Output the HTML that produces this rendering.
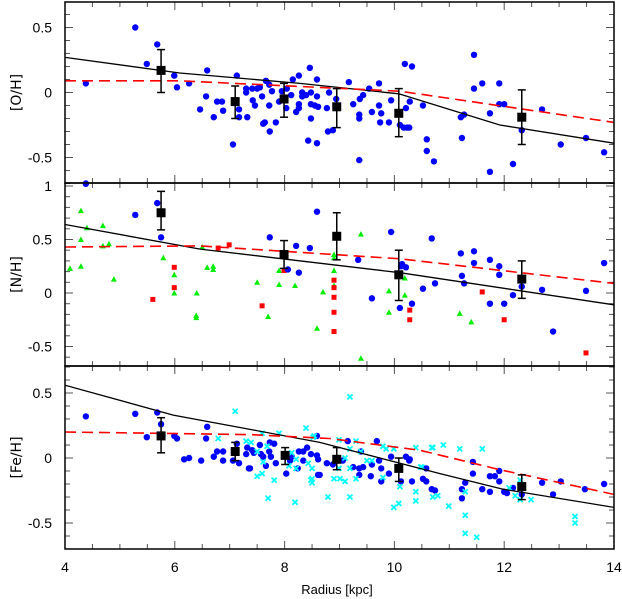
<!DOCTYPE html>
<html><head><meta charset="utf-8">
<style>
html,body{margin:0;padding:0;background:#fff;}
svg{display:block;font-family:"Liberation Sans",sans-serif;}
</style></head>
<body>
<svg id="chart" width="622" height="599" viewBox="0 0 622 599" xmlns="http://www.w3.org/2000/svg"></svg>
<script>
// ---------- data ----------
const xTicks = [4, 6, 8, 10, 12, 14];
const ohBlueR = [5.28,5.68,5.49,4.38,4.38,5.99,6.04,6.26,6.46,6.59,6.57,6.77,6.86,6.71,6.88,7.06,7.13,7.17,7.17,7.30,7.30,7.41,7.42,7.46,7.32,7.50,7.55,7.59,7.66,7.72,7.77,7.72,7.61,7.64,7.73,7.84,7.90,7.95,8.04,8.12,8.03,8.15,8.26,8.21,8.26,8.26,8.32,8.32,8.39,8.46,8.48,8.48,8.48,8.59,8.59,8.55,8.61,8.43,8.59,8.77,8.81,8.94,8.79,8.88,9.17,9.25,9.36,9.36,9.37,9.43,9.54,9.36,9.59,9.72,9.72,9.76,9.74,9.90,9.94,10.19,10.32,10.10,10.21,10.28,10.17,10.23,10.27,10.52,10.59,10.59,10.72,11.45,11.45,11.60,11.21,11.27,11.23,11.74,11.74,11.91,11.91,12.00,12.16,12.32,12.69,13.03,13.49,13.82];
const ohBlueV = [0.50,0.37,0.22,0.07,-0.70,0.13,0.04,0.07,-0.13,0.17,-0.03,-0.07,-0.07,-0.19,-0.14,-0.40,0.13,-0.13,-0.19,0.03,0.00,0.03,-0.06,-0.10,-0.19,0.03,0.04,-0.03,0.09,0.06,0.01,-0.10,-0.24,-0.23,-0.30,-0.23,-0.07,0.01,0.03,-0.02,-0.12,0.10,0.13,-0.15,-0.09,-0.12,0.00,-0.03,-0.02,0.19,0.00,-0.09,-0.20,0.10,-0.03,-0.10,-0.11,-0.37,-0.39,-0.12,0.00,-0.05,-0.30,-0.29,0.08,-0.09,-0.17,-0.20,-0.05,-0.02,0.03,-0.52,-0.15,0.07,-0.10,-0.16,-0.23,-0.23,-0.06,0.22,0.20,-0.25,-0.12,-0.07,-0.27,-0.27,-0.27,-0.10,-0.36,-0.45,-0.53,0.29,0.03,0.07,-0.19,-0.17,-0.35,-0.16,-0.61,0.07,-0.09,-0.09,-0.55,-0.29,-0.13,-0.40,-0.35,-0.46];
const binR = [5.75,7.10,7.99,8.95,10.08,12.32];
const ohBinV = [0.17,-0.07,-0.05,-0.11,-0.16,-0.19];
const ohBinHi = [0.33,0.05,0.07,0.03,0.03,0.02];
const ohBinLo = [0.00,-0.20,-0.19,-0.27,-0.34,-0.40];
const ohModelR = [4,6.09,8.28,10.08,11.92,14];
const ohModelV = [0.27,0.15,0.07,-0.01,-0.25,-0.39];
const ohDashR = [4,6.09,10.10,14];
const ohDashV = [0.09,0.09,0.01,-0.23];

const nhBlueR = [4.38,5.68,5.28,5.75,8.59,7.73,8.21,8.46,8.06,8.26,9.34,9.94,10.14,10.12,10.21,9.59,10.32,10.10,10.68,11.21,11.45,11.45,11.23,11.27,11.74,11.91,11.91,10.52,10.74,11.74,12.00,12.16,12.32,12.69,12.89,13.49,13.82];
const nhBlueV = [1.02,0.84,0.73,0.52,0.76,0.52,0.44,0.42,0.22,0.19,0.31,0.57,0.27,0.25,0.24,-0.05,-0.10,-0.14,0.51,0.37,0.39,0.28,0.16,0.09,0.31,0.25,0.17,0.04,0.09,-0.10,-0.10,-0.02,0.06,0.03,-0.36,0.02,0.28];
const nhGreenR = [4.29,4.09,4.29,4.29,4.40,4.69,4.69,4.80,4.89,5.28,5.79,5.99,5.99,6.40,6.39,6.39,6.50,6.59,6.70,6.70,7.50,7.90,7.90,7.70,8.19,8.59,8.70,8.90,8.90,8.90,8.90,9.39,9.39,9.90,9.90,10.19,10.19,11.19,11.40];
const nhGreenV = [0.77,0.23,0.25,0.50,0.61,0.63,0.44,0.46,0.13,0.73,0.33,0.17,0.00,0.00,-0.21,-0.23,0.43,0.24,0.25,0.22,0.10,0.21,0.08,-0.22,0.07,-0.33,0.01,0.36,0.33,0.21,0.07,0.55,-0.61,0.02,-0.18,0.14,-0.02,-0.19,-0.27];
const nhRedR = [5.60,5.99,5.99,6.79,6.99,7.59,7.99,8.90,8.90,8.90,8.90,8.90,10.28,10.28,11.60,12.00,13.49];
const nhRedV = [-0.06,0.24,0.05,0.42,0.45,-0.12,0.21,0.12,0.05,-0.04,-0.18,-0.36,-0.16,-0.25,0.01,-0.25,-0.56];
const nhBinV = [0.75,0.36,0.53,0.17,0.13];
const nhBinR = [5.75,7.99,8.95,10.08,12.32];
const nhBinHi = [0.95,0.49,0.75,0.40,0.30];
const nhBinLo = [0.59,0.23,0.31,-0.07,-0.05];
const nhModelR = [4,6.46,10.10,14];
const nhModelV = [0.64,0.41,0.19,-0.11];
const nhDashR = [4,6.46,10.10,14];
const nhDashV = [0.43,0.44,0.32,0.09];

const feBlueR = [4.38,5.28,5.68,5.75,5.49,5.99,6.04,6.17,6.26,6.48,6.57,6.59,6.71,6.77,6.88,6.88,7.06,7.13,7.17,7.32,7.30,7.35,7.41,7.44,7.55,7.57,7.61,7.72,7.73,7.81,7.75,7.66,7.37,7.84,8.10,8.13,8.26,8.34,8.41,8.48,8.34,8.03,8.24,8.61,8.59,8.61,8.59,8.64,8.77,8.88,9.06,9.15,9.25,9.36,9.36,9.43,9.39,9.59,9.57,9.68,9.72,9.76,9.76,9.90,9.94,10.12,10.21,10.27,10.28,10.32,10.52,10.58,10.58,10.68,10.74,11.43,11.43,11.23,11.23,11.29,11.60,11.74,11.74,11.83,11.91,11.91,12.00,12.05,12.16,12.32,12.69,12.89,13.03,13.47,13.82];
const feBlueV = [0.32,0.34,0.35,0.26,0.16,0.17,0.15,-0.01,0.00,-0.02,0.15,0.24,0.01,0.05,0.05,-0.02,-0.02,0.11,-0.04,0.08,0.03,-0.08,0.06,0.04,0.10,0.03,0.01,0.05,0.12,0.11,0.01,-0.06,-0.08,-0.04,-0.02,0.01,0.05,0.05,0.08,0.03,-0.02,-0.12,-0.08,-0.01,0.17,-0.13,0.02,-0.13,-0.04,-0.05,-0.02,0.13,-0.07,-0.08,-0.13,-0.07,0.05,-0.05,-0.14,0.13,-0.02,-0.08,-0.18,-0.12,0.01,-0.18,0.01,-0.02,-0.01,-0.18,-0.16,-0.08,-0.18,-0.24,-0.25,-0.03,-0.12,-0.24,-0.31,-0.19,-0.24,-0.26,-0.14,-0.14,-0.10,-0.18,-0.26,-0.27,-0.23,-0.28,-0.19,-0.28,-0.18,-0.24,-0.20];
const feCyanR = [7.10,6.79,7.30,7.39,7.50,7.59,7.68,7.90,7.61,7.59,7.50,7.81,7.70,8.08,8.13,8.21,8.21,8.39,8.50,8.48,8.19,8.54,8.43,9.19,8.52,8.99,9.30,9.19,9.39,9.50,9.59,9.79,9.85,9.99,10.39,10.70,9.10,8.99,8.90,9.01,9.10,9.19,9.30,8.79,9.19,9.79,9.99,10.08,10.10,10.39,10.39,10.48,10.70,10.79,8.50,8.50,10.68,10.89,11.19,11.60,10.50,10.99,11.29,11.29,11.29,11.50,12.09,12.20,12.29,12.29,12.49,13.29,13.29];
const feCyanV = [0.36,0.15,0.13,0.12,0.05,0.19,0.09,0.19,-0.03,-0.12,-0.14,-0.17,-0.31,-0.06,0.04,-0.08,-0.01,0.23,-0.08,-0.17,-0.34,0.17,-0.04,0.47,0.16,0.14,0.13,0.07,0.05,-0.02,-0.02,0.09,0.07,0.07,0.08,0.08,0.00,-0.08,-0.16,-0.16,-0.18,-0.08,-0.16,-0.30,-0.30,-0.15,-0.38,-0.35,-0.22,-0.26,-0.33,-0.07,-0.30,-0.29,-0.16,-0.19,0.08,0.10,0.07,0.07,-0.07,-0.37,-0.26,-0.44,-0.58,-0.61,-0.23,-0.29,-0.32,-0.17,-0.32,-0.45,-0.50];
const feBinV = [0.17,0.05,0.02,-0.01,-0.08,-0.22];
const feBinR = [5.75,7.10,8.01,8.95,10.08,12.32];
const feBinHi = [0.31,0.12,0.08,0.08,0.00,-0.13];
const feBinLo = [0.04,-0.02,-0.05,-0.09,-0.18,-0.32];
const feModelR = [4,5.97,7.37,8.64,10.83,11.98,14];
const feModelV = [0.56,0.33,0.22,0.12,-0.12,-0.24,-0.38];
const feDashR = [4,7.37,8.82,10.46,11.92,14];
const feDashV = [0.20,0.18,0.15,0.06,-0.09,-0.28];

// ---------- drawing ----------
const svg = document.getElementById('chart');
const NS = 'http://www.w3.org/2000/svg';
const X0 = 65, X1 = 614;
const xs = r => X0 + (r - 4) * (X1 - X0) / 10;
function mk(tag, attrs, parent) {
  const e = document.createElementNS(NS, tag);
  for (const k in attrs) e.setAttribute(k, attrs[k]);
  (parent || svg).appendChild(e);
  return e;
}
const panels = [
  {key:'oh', title:'[O/H]', top:2, bot:183, y0:92.5, s:130, vmin:-0.7, vmax:0.69, labels:[0.5,0,-0.5]},
  {key:'nh', title:'[N/H]', top:183, bot:366, y0:293, s:107, vmin:-0.68, vmax:1.03, labels:[1,0.5,0,-0.5]},
  {key:'fe', title:'[Fe/H]', top:366, bot:549, y0:458, s:130, vmin:-0.7, vmax:0.71, labels:[0.5,0,-0.5]}
];

panels.forEach(p => {
  const ys = v => p.y0 - v * p.s;
  const g = mk('g', {});
  
  
  // ticks x
  for (let r = 4; r <= 14.001; r += 0.5) {
    const major = Math.abs(r - Math.round(r/2)*2) < 1e-6;
    const L = major ? 8 : 5;
    mk('line', {x1:xs(r), x2:xs(r), y1:p.top, y2:p.top+L, stroke:'#555', 'stroke-width':1}, g);
    mk('line', {x1:xs(r), x2:xs(r), y1:p.bot, y2:p.bot-L, stroke:'#555', 'stroke-width':1}, g);
  }
  // ticks y
  for (let k = Math.ceil(p.vmin*10); k <= Math.floor(p.vmax*10); k++) {
    const v = k/10, major = k % 5 === 0, L = major ? 8 : 5;
    mk('line', {x1:X0, x2:X0+L, y1:ys(v), y2:ys(v), stroke:'#555', 'stroke-width':1}, g);
    mk('line', {x1:X1, x2:X1-L, y1:ys(v), y2:ys(v), stroke:'#555', 'stroke-width':1}, g);
  }
  p.labels.forEach(v => {
    const t = mk('text', {x:52, y:ys(v)+5, 'text-anchor':'end', 'font-size':14, fill:'#000'}, g);
    t.textContent = String(v);
    
    
  });
  const yt = mk('text', {x:0, y:0, 'text-anchor':'middle', 'font-size':14, fill:'#000',
    'font-family':'"DejaVu Sans",sans-serif',
    transform:`translate(21,${(p.top+p.bot)/2}) rotate(-90)`}, g);
  yt.textContent = p.title;
  
  

  const clipId = 'clip-' + p.key;
  const cp = mk('clipPath', {id:clipId}, g);
  mk('rect', {x:X0, y:p.top, width:X1-X0, height:p.bot-p.top}, cp);
  const pg = mk('g', {'clip-path':`url(#${clipId})`}, g);

  const line = (R, V, dashed, name) => {
    const d = R.map((r,i) => (i?'L':'M') + xs(r).toFixed(1) + ',' + ys(V[i]).toFixed(1)).join('');
    const e = mk('path', {d, fill:'none', stroke: dashed ? '#f00' : '#000', 'stroke-width': dashed ? 1.6 : 1.3,
      'stroke-dasharray': dashed ? '11 6' : 'none'}, pg);
    
    
  };
  const dots = (R, V, color, name) => R.forEach((r,i) => {
    const e = mk('circle', {cx:xs(r), cy:ys(V[i]), r:3.2, fill:color}, pg);
    
    
  });
  const tris = (R, V, name) => R.forEach((r,i) => {
    const x = xs(r), y = ys(V[i]);
    const e = mk('polygon', {points:`${x},${y-3} ${x-3},${y+2.5} ${x+3},${y+2.5}`, fill:'#0e0'}, pg);
    
    
  });
  const sqs = (R, V, name) => R.forEach((r,i) => {
    const e = mk('rect', {x:xs(r)-2.5, y:ys(V[i])-2.5, width:5, height:5, fill:'#f00'}, pg);
    
    
  });
  const crosses = (R, V, name) => R.forEach((r,i) => {
    const x = xs(r), y = ys(V[i]);
    const e = mk('path', {d:`M${x-2.5},${y-2.5}L${x+2.5},${y+2.5}M${x-2.5},${y+2.5}L${x+2.5},${y-2.5}`, stroke:'#0ff', 'stroke-width':1.8, fill:'none'}, pg);
    
    
  });
  const bins = (R, V, Hi, Lo, name) => R.forEach((r,i) => {
    const x = xs(r);
    const bg = mk('g', {}, pg);
    
    
    mk('line', {x1:x, x2:x, y1:ys(Hi[i]), y2:ys(Lo[i]), stroke:'#000', 'stroke-width':1.5}, bg);
    mk('line', {x1:x-4, x2:x+4, y1:ys(Hi[i]), y2:ys(Hi[i]), stroke:'#000', 'stroke-width':1.5}, bg);
    mk('line', {x1:x-4, x2:x+4, y1:ys(Lo[i]), y2:ys(Lo[i]), stroke:'#000', 'stroke-width':1.5}, bg);
    mk('rect', {x:x-4.5, y:ys(V[i])-4.5, width:9, height:9, fill:'#000'}, bg);
  });

  if (p.key === 'oh') {
    dots(ohBlueR, ohBlueV, '#00f', 'oh-star-point');
    line(ohModelR, ohModelV, false, 'oh-model-line');
    line(ohDashR, ohDashV, true, 'oh-dashed-model-line');
    bins(binR, ohBinV, ohBinHi, ohBinLo, 'oh-binned-mean');
  } else if (p.key === 'nh') {
    tris(nhGreenR, nhGreenV, 'nh-green-triangle');
    sqs(nhRedR, nhRedV, 'nh-red-square');
    dots(nhBlueR, nhBlueV, '#00f', 'nh-star-point');
    line(nhModelR, nhModelV, false, 'nh-model-line');
    line(nhDashR, nhDashV, true, 'nh-dashed-model-line');
    bins(nhBinR, nhBinV, nhBinHi, nhBinLo, 'nh-binned-mean');
  } else {
    dots(feBlueR, feBlueV, '#00f', 'fe-star-point');
    crosses(feCyanR, feCyanV, 'fe-cyan-cross');
    line(feModelR, feModelV, false, 'fe-model-line');
    line(feDashR, feDashV, true, 'fe-dashed-model-line');
    bins(feBinR, feBinV, feBinHi, feBinLo, 'fe-binned-mean');
  }
  const fr = mk('rect', {x:X0, y:p.top, width:X1-X0, height:p.bot-p.top, fill:'none', stroke:'#000', 'stroke-width':1.5}, g);
  
  
});

xTicks.forEach(r => {
  const t = mk('text', {x:xs(r), y:572, 'text-anchor':'middle', 'font-size':14, fill:'#000'});
  t.textContent = String(r);
  
  
});
const xt = mk('text', {x:337, y:594, 'text-anchor':'middle', 'font-size':13, fill:'#000'});
xt.textContent = 'Radius [kpc]';


</script>
</body></html>
